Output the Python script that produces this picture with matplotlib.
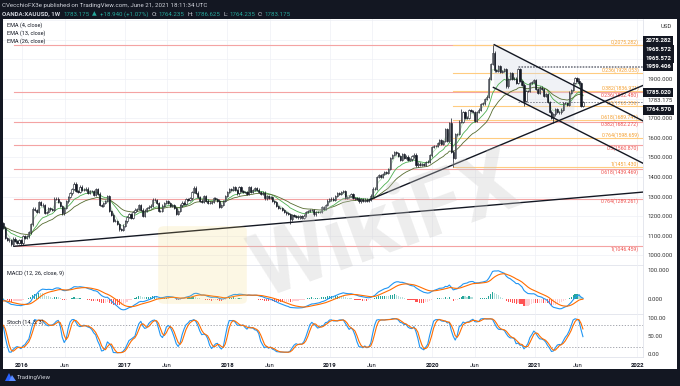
import matplotlib
matplotlib.use('Agg')
import matplotlib.pyplot as plt
import matplotlib.dates as mdates
from matplotlib.patches import Rectangle, FancyBboxPatch, Polygon
import numpy as np
import pandas as pd

plt.rcParams['font.family'] = ['Roboto', 'DejaVu Sans']

# weekly closes XAUUSD (week starting monday), Jun 2015 .. Jun 21 2021
closes_2015 = [1168, 1180, 1201, 1173, 1168, 1157, 1132, 1085, 1095, 1094, 1113, 1160, 1134, 1121,
               1108, 1137, 1146, 1137, 1156, 1182, 1163, 1142, 1088, 1081, 1076, 1056, 1086, 1075,
               1065, 1076, 1061]
closes_2016 = [1098, 1089, 1097, 1117, 1158, 1239, 1231, 1222, 1271, 1259, 1255, 1217, 1222,
               1243, 1235, 1232, 1290, 1290, 1273, 1252, 1214, 1243, 1275, 1298, 1316, 1340,
               1366, 1327, 1323, 1351, 1335, 1336, 1341, 1320, 1327, 1327, 1310, 1337, 1315,
               1257, 1251, 1267, 1276, 1304, 1225, 1208, 1178, 1177, 1160, 1134, 1132, 1152]
closes_2017 = [1173, 1197, 1210, 1190, 1220, 1234, 1236, 1257, 1234, 1202, 1229, 1243, 1249,
               1254, 1285, 1284, 1268, 1228, 1228, 1254, 1267, 1279, 1266, 1254, 1256, 1242,
               1212, 1228, 1255, 1269, 1264, 1289, 1285, 1291, 1325, 1346, 1320, 1297, 1280,
               1274, 1304, 1280, 1266, 1269, 1274, 1293, 1288, 1280, 1248, 1257, 1278, 1303]
closes_2018 = [1322, 1338, 1332, 1350, 1333, 1316, 1347, 1330, 1323, 1324, 1313, 1347, 1325,
               1332, 1345, 1336, 1323, 1314, 1320, 1291, 1302, 1294, 1298, 1279, 1270, 1253,
               1241, 1241, 1231, 1223, 1214, 1212, 1184, 1206, 1201, 1198, 1194, 1199, 1192,
               1203, 1222, 1227, 1233, 1233, 1209, 1222, 1223, 1222, 1248, 1238, 1256, 1280, 1286]
closes_2019 = [1290, 1282, 1303, 1318, 1314, 1322, 1329, 1294, 1298, 1303, 1313, 1292, 1291,
               1290, 1275, 1286, 1280, 1285, 1276, 1284, 1305, 1341, 1341, 1399, 1409, 1399,
               1415, 1426, 1419, 1440, 1497, 1513, 1527, 1520, 1507, 1488, 1516, 1497, 1504,
               1488, 1490, 1505, 1514, 1459, 1468, 1462, 1464, 1460, 1476, 1479, 1510, 1552]
closes_2020 = [1557, 1557, 1571, 1589, 1570, 1584, 1643, 1585, 1674, 1530, 1498, 1617, 1620,
               1683, 1683, 1729, 1700, 1703, 1743, 1735, 1730, 1684, 1730, 1744, 1771, 1775,
               1798, 1810, 1902, 1975, 2035, 1944, 1940, 1964, 1934, 1940, 1950, 1862, 1900,
               1930, 1900, 1902, 1879, 1951, 1889, 1871, 1788, 1839, 1839, 1881, 1883, 1895]
closes_2021 = [1850, 1828, 1856, 1848, 1814, 1824, 1784, 1734, 1700, 1719, 1745, 1733, 1729,
               1744, 1777, 1777, 1769, 1831, 1843, 1881, 1905, 1892, 1877, 1764.57, 1783.175]

# notable wick extremes
wick_highs = {'2016-07-04': 1375, '2020-03-09': 1703, '2020-04-13': 1747, '2020-08-03': 2075.282,
              '2021-06-07': 1903}
wick_lows = {'2015-11-30': 1046.459, '2016-12-12': 1123, '2018-08-13': 1160, '2020-03-16': 1451.4,
             '2020-11-23': 1764.6, '2021-03-08': 1676.9}

# fibonacci retracements (red: 2015 low -> 2020 high, orange: 2020 low -> 2020 high)
fib_ratios = [0, 0.236, 0.382, 0.5, 0.618, 0.764, 1]
red_fib = ('2015-12-03', 2075.282, 1046.459)
orange_fib = ('2020-03-16', 2075.282, 1451.43)

# trendlines: (date, price) -> (date, price)
trendlines = [(('2015-12-03', 1046.5), ('2022-01-21', 1323)),
              (('2019-05-21', 1283), ('2022-01-21', 1867)),
              (('2020-08-09', 2075), ('2022-01-21', 1686)),
              (('2020-08-06', 1857), ('2022-01-21', 1470))]

# right axis tags (text, place on axis)
axis_tags = [('2075.282', 2094), ('1965.572', 2052), ('1965.572', 2007), ('1959.406', 1963),
             ('1785.020', 1830), ('1764.570', 1742)]

closes = closes_2015 + closes_2016 + closes_2017 + closes_2018 + closes_2019 + closes_2020 + closes_2021
dates = pd.date_range(end='2021-06-21', periods=len(closes), freq='W-MON')
df = pd.DataFrame({'close': closes}, index=dates)
df['open'] = df['close'].shift(1).fillna(1190)
df['high'] = df[['open', 'close']].max(axis=1) + 6
df['low'] = df[['open', 'close']].min(axis=1) - 6
for d, v in wick_highs.items():
    df.loc[d, 'high'] = v
for d, v in wick_lows.items():
    df.loc[d, 'low'] = v

c = df['close']
ema4 = c.ewm(span=4, adjust=False).mean()
ema13 = c.ewm(span=13, adjust=False).mean()
ema26 = c.ewm(span=26, adjust=False).mean()
macd = c.ewm(span=12, adjust=False).mean() - ema26
signal = macd.ewm(span=9, adjust=False).mean()
hist = macd - signal
ll = df['low'].rolling(14).min()
hh = df['high'].rolling(14).max()
k = (100 * (c - ll) / (hh - ll)).rolling(3).mean()
dline = k.rolling(3).mean()

W, H = 680, 386
fig = plt.figure(figsize=(6.8, 3.86), dpi=100, facecolor='#131722')
fig.patches.append(Rectangle((3 / W, 1 - 369 / H), 674 / W, 350 / H, transform=fig.transFigure,
                             facecolor='white', edgecolor='none', zorder=-5))


def box(top, bottom):
    return [3 / W, 1 - bottom / H, 640 / W, (bottom - top) / H]


ax = fig.add_axes(box(19, 265))
axm = fig.add_axes(box(265, 314), sharex=ax)
axs = fig.add_axes(box(314, 357), sharex=ax)

x = mdates.date2num(df.index)
xmin, xmax = mdates.date2num(pd.Timestamp('2015-10-25')), mdates.date2num(pd.Timestamp('2022-01-21'))
grid_c = '#eef0f5'
ticks = []
tick_labels = []
for yr in range(2016, 2023):
    ticks.append(mdates.date2num(pd.Timestamp(f'{yr}-01-01')))
    tick_labels.append(str(yr))
    if yr < 2022:
        ticks.append(mdates.date2num(pd.Timestamp(f'{yr}-06-01')))
        tick_labels.append('Jun')

for a in (ax, axm, axs):
    a.set_facecolor('none')
    a.set_xlim(xmin, xmax)
    for s in ['top', 'left']:
        a.spines[s].set_visible(False)
    for s in ['bottom', 'right']:
        a.spines[s].set_color('#e0e3eb')
        a.spines[s].set_linewidth(0.6)
    a.yaxis.tick_right()
    a.tick_params(axis='y', length=0, labelsize=4.3, labelcolor='#333333', pad=3)
    a.tick_params(axis='x', length=0, labelsize=4.3, labelcolor='#131722', pad=4)
    for t in ticks:
        a.axvline(t, color=grid_c, lw=0.5, zorder=0)

# --- main panel
ax.set_ylim(951, 2206)
main_ticks = [1000, 1100, 1200, 1300, 1400, 1500, 1600, 1700, 1900]
ax.set_yticks(main_ticks)
ax.set_yticklabels(['%.3f' % v for v in main_ticks])
for v in range(1000, 2201, 100):
    ax.axhline(v, color=grid_c, lw=0.5, zorder=0)

# red labels sit under their line, orange ones over it
for (d0, hi, lo), col, tcol, va in [(red_fib, '#f4a3a3', '#ef5350', 'top'),
                                    (orange_fib, '#ffcc80', '#f5a030', 'bottom')]:
    x0 = mdates.date2num(pd.Timestamp(d0))
    for r in fib_ratios:
        lvl = hi - r * (hi - lo)
        ax.plot([x0, xmax], [lvl, lvl], color=col, lw=0.8, zorder=1)
        if col == '#f4a3a3' and r == 0:
            continue
        ax.text(0.994, lvl, '%g(%.3f)' % (r, lvl), transform=ax.get_yaxis_transform(),
                ha='right', va=va, fontsize=3.7, color=tcol, zorder=2)

# dashed reference levels
x_dash = mdates.date2num(pd.Timestamp('2020-11-01'))
for lvl in [1965.572, 1959.406, 1783.175]:
    ax.plot([x_dash, xmax], [lvl, lvl], color='#787b86', lw=0.6, ls=(0, (2, 1.5)), zorder=2)


def line_at(tl, xv):
    (d0, p0), (d1, p1) = tl
    a0, a1 = mdates.date2num(pd.Timestamp(d0)), mdates.date2num(pd.Timestamp(d1))
    return p0 + (p1 - p0) * (xv - a0) / (a1 - a0)


# channel shading
xc = np.array([mdates.date2num(pd.Timestamp('2020-08-07')), mdates.date2num(pd.Timestamp('2021-05-20'))])
ax.fill_between(xc, line_at(trendlines[3], xc), line_at(trendlines[2], xc),
                color='#d6dbe6', alpha=0.35, lw=0, zorder=1)

# candles
o = df['open'].values
cl = df['close'].values
up = cl >= o
ax.vlines(x, df['low'].values, df['high'].values, color='#131722', lw=0.5, zorder=4)
ax.bar(x[up], (cl - o)[up], bottom=o[up], width=4.2, color='white', edgecolor='#131722', lw=0.4, zorder=5)
ax.bar(x[~up], (o - cl)[~up], bottom=cl[~up], width=4.2, color='#131722', edgecolor='#131722', lw=0.4, zorder=5)

ax.plot(x, ema4, color='#b7dfb9', lw=0.6, zorder=3)
ax.plot(x, ema13, color='#4caf50', lw=0.6, zorder=3)
ax.plot(x, ema26, color='#556b2f', lw=0.6, zorder=3)

for (d0, p0), (d1, p1) in trendlines:
    ax.plot([mdates.date2num(pd.Timestamp(d0)), mdates.date2num(pd.Timestamp(d1))], [p0, p1],
            color='#131722', lw=1.0, zorder=6)

for txt, yp in axis_tags:
    ax.text(1.004, yp, txt, transform=ax.get_yaxis_transform(), ha='left', va='center',
            fontsize=4.3, color='white', fontweight='bold', clip_on=False,
            bbox=dict(boxstyle='square,pad=0.35', facecolor='#131722', edgecolor='none'))
ax.text(1.007, 1788, '1783.175', transform=ax.get_yaxis_transform(), ha='left', va='center',
        fontsize=4.3, color='#333333', clip_on=False)
ax.text(1.027, 2170, 'USD', transform=ax.get_yaxis_transform(), ha='left', va='center',
        fontsize=4.3, color='#333333', clip_on=False)

# --- MACD panel
axm.set_ylim(-50, 116)
axm.set_yticks([0, 100])
axm.set_yticklabels(['0.000', '100.000'])
hcol = []
prev = 0
for hv in hist.values:
    if hv >= 0:
        hcol.append('#26a69a' if hv >= prev else '#b2dfdb')
    else:
        hcol.append('#ff5252' if hv <= prev else '#ffcdd2')
    prev = hv
axm.bar(x, hist.values, width=4.2, color=hcol, lw=0)
axm.plot(x, macd, color='#2196f3', lw=0.8)
axm.plot(x, signal, color='#ff6d00', lw=0.8)

# --- Stoch panel
axs.set_ylim(-8.3, 110.2)
axs.set_yticks([0, 50, 100])
axs.set_yticklabels(['0.00', '50.00', '100.00'])
for lvl in [80, 20]:
    axs.axhline(lvl, color='#9598a1', lw=0.6, ls=(0, (1.5, 2)))
axs.plot(x, k, color='#2196f3', lw=0.8)
axs.plot(x, dline, color='#ff6d00', lw=0.8)

axs.set_xticks(ticks)
axs.set_xticklabels(tick_labels)
for t in axs.get_xticklabels():
    if t.get_text() != 'Jun':
        t.set_fontweight('bold')
plt.setp(ax.get_xticklabels(), visible=False)
plt.setp(axm.get_xticklabels(), visible=False)

# indicator titles
for i, s in enumerate(['EMA (4, close)', 'EMA (13, close)', 'EMA (26, close)']):
    fig.text(7 / W, 1 - (25.3 + 8.1 * i) / H, s, fontsize=4, color='#131722', va='center')
fig.text(7 / W, 1 - 273.3 / H, 'MACD (12, 26, close, 9)', fontsize=4, color='#131722', va='center')
fig.text(7 / W, 1 - 322 / H, 'Stoch (14, 3, 3)', fontsize=4, color='#131722', va='center')

# header
fig.text(2 / W, 1 - 5 / H, 'CVecchioFX3e published on TradingView.com, June 21, 2021 18:11:34 UTC',
         fontsize=4.4, color='#d1d4dc', va='center')
renderer = fig.canvas.get_renderer()
xh = 2 / W
green = '#26a69a'
parts = [('OANDA:XAUUSD, 1W', '#d1d4dc'), ('1783.175', green), ('▲', green), ('+18.940 (+1.07%)', green),
         ('O:', '#d1d4dc'), ('1764.235', green), ('H:', '#d1d4dc'), ('1786.625', green),
         ('L:', '#d1d4dc'), ('1764.235', green), ('C:', '#d1d4dc'), ('1783.175', green)]
for s, col in parts:
    t = fig.text(xh, 1 - 14 / H, s, fontsize=4.4, color=col, va='center',
                 fontweight='bold' if s.startswith('OANDA') else 'normal')
    bb = t.get_window_extent(renderer)
    gap = 1.2 if s.endswith(':') else 3
    xh += (bb.width + gap) / W

# footer
fig.patches.append(Polygon([(5 / W, 1 - 381 / H), (9 / W, 1 - 373 / H), (13 / W, 1 - 381 / H)],
                           closed=True, transform=fig.transFigure, facecolor='#2962ff', edgecolor='none'))
fig.patches.append(Polygon([(9 / W, 1 - 381 / H), (12 / W, 1 - 375 / H), (16 / W, 1 - 381 / H)],
                           closed=True, transform=fig.transFigure, facecolor='#5b8cff', edgecolor='none'))
fig.text(17 / W, 1 - 377.5 / H, 'TradingView', fontsize=4.4, color='#d1d4dc', va='center')

# watermark
fig.patches.append(FancyBboxPatch((165 / W, 1 - 300 / H), 75 / W, 70 / H,
                                  boxstyle='round,pad=0.01', transform=fig.transFigure,
                                  facecolor='#f3d36b', edgecolor='none', alpha=0.18, zorder=10))
fig.text(385 / W, 1 - 228 / H, 'WikiFX', fontsize=64, fontweight='bold', color='#c8c8c8',
         alpha=0.33, rotation=20, ha='center', va='center', zorder=10)

fig.savefig('out.png', dpi=100, facecolor=fig.get_facecolor())
